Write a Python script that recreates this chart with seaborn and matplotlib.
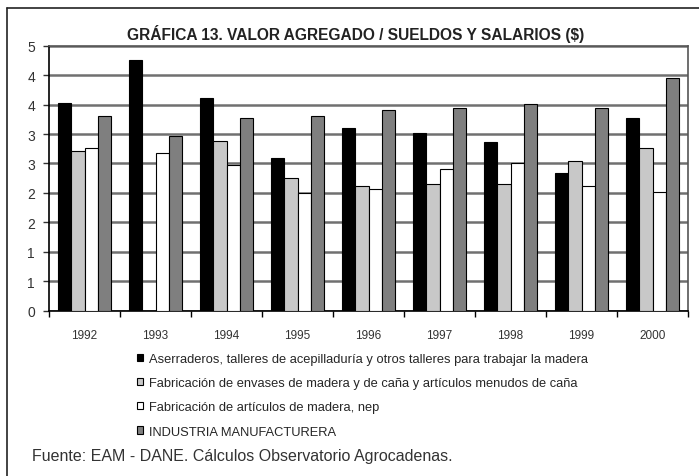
import numpy as np
import pandas as pd
import matplotlib
matplotlib.use('Agg')
import matplotlib.pyplot as plt
from matplotlib.ticker import FuncFormatter, MultipleLocator
from matplotlib.lines import Line2D
import seaborn as sns

# values (ratio valor agregado / sueldos y salarios)
years = ['1992', '1993', '1994', '1995', '1996', '1997', '1998', '1999', '2000']
aserraderos = [3.53, 4.26, 3.62, 2.60, 3.10, 3.02, 2.87, 2.34, 3.27]
envases = [2.71, 0.0, 2.89, 2.25, 2.11, 2.16, 2.16, 2.54, 2.76]
articulos = [2.76, 2.67, 2.47, 2.00, 2.07, 2.41, 2.50, 2.12, 2.02]
industria = [3.31, 2.97, 3.27, 3.31, 3.40, 3.44, 3.51, 3.44, 3.95]

series_names = ['Aserraderos, talleres de acepilladuría y otros talleres para trabajar la madera',
                'Fabricación de envases de madera y de caña y artículos menudos de caña',
                'Fabricación de artículos de madera, nep',
                'INDUSTRIA MANUFACTURERA']
colors = ['#000000', '#c8c8c8', '#ffffff', '#7f7f7f']

df = pd.DataFrame({'Año': years * 4,
                   'Serie': np.repeat(series_names, len(years)),
                   'Valor': aserraderos + envases + articulos + industria})

sns.set_style('white')
plt.rcParams['font.family'] = ['Liberation Sans', 'DejaVu Sans']

fig = plt.figure(figsize=(6.99, 4.77), dpi=100)
ax = fig.add_axes([0.0701, 0.3465, 0.9142, 0.5556])

sns.barplot(data=df, x='Año', y='Valor', hue='Serie', hue_order=series_names,
            palette=colors, edgecolor='black', linewidth=0.8, width=0.75,
            gap=0, saturation=1, ax=ax, zorder=3)

ax.set_ylim(0, 4.5)
ax.yaxis.set_major_locator(MultipleLocator(0.5))
ax.yaxis.set_major_formatter(FuncFormatter(lambda v, p: '%d' % int(np.floor(v + 0.5 + 1e-9))))
ax.grid(axis='y', color='#707070', linewidth=1.8, zorder=0)
ax.set_axisbelow(True)
ax.set_xlim(-0.5, len(years) - 0.5)
ax.set_xlabel('')
ax.set_ylabel('')

for s in ['left', 'bottom']:
    ax.spines[s].set_color('black')
    ax.spines[s].set_linewidth(1.2)
for s in ['top', 'right']:
    ax.spines[s].set_color('#555555')
    ax.spines[s].set_linewidth(1.2)

ax.tick_params(axis='y', labelsize=10, colors='#333333', length=4, width=1, left=True, pad=6)
ax.tick_params(axis='x', labelsize=8.5, colors='#333333', length=0, pad=13)
# tick marks between year groups
ax.set_xticks(np.arange(-0.5, len(years), 1.0), minor=True)
ax.tick_params(axis='x', which='minor', length=4, width=1, bottom=True, color='black')

fig.text(0.509, 0.928, 'GRÁFICA 13. VALOR AGREGADO / SUELDOS Y SALARIOS ($)',
         ha='center', va='center', fontsize=11.2, fontweight='bold', color='#222222')

handles, labels = ax.get_legend_handles_labels()
ax.legend(handles, labels, loc='upper left', bbox_to_anchor=(0.188, 0.269),
          bbox_transform=fig.transFigure, frameon=False, fontsize=9.3,
          handlelength=0.5, handleheight=0.5, handletextpad=0.45,
          labelspacing=0.95, borderaxespad=0)

fig.text(0.046, 0.042, 'Fuente: EAM - DANE. Cálculos Observatorio Agrocadenas.',
         ha='left', va='center', fontsize=11.5, color='#333333')

# outer frame
fig.add_artist(Line2D([0.010, 0.010], [0.0, 0.981], color='#222222', linewidth=1.2))
fig.add_artist(Line2D([0.010, 1.0], [0.981, 0.981], color='#222222', linewidth=1.2))

fig.savefig('out.png', dpi=100)
